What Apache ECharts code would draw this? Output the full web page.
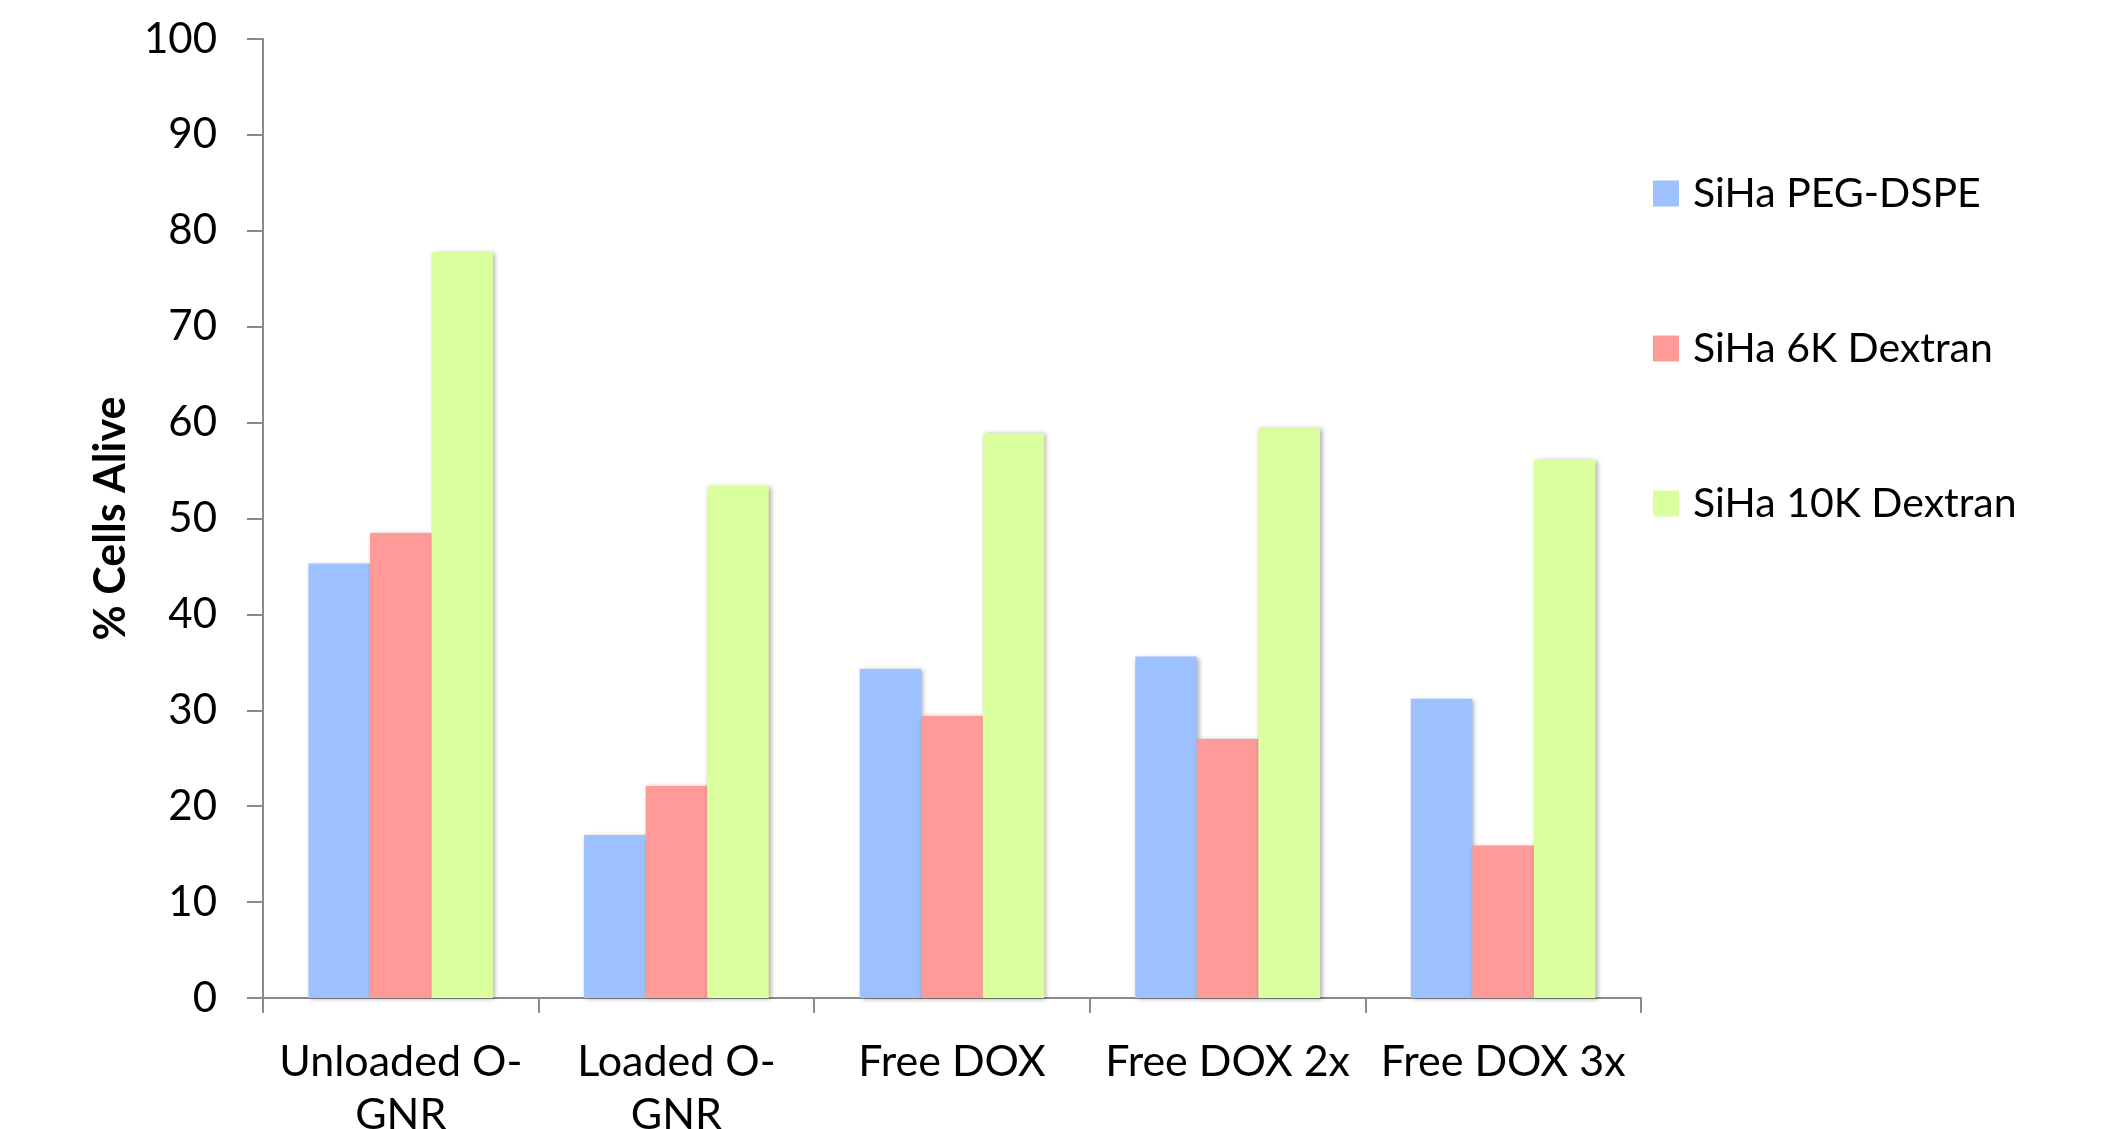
<!DOCTYPE html>
<html>
<head>
<meta charset="utf-8">
<script src="https://cdn.jsdelivr.net/npm/echarts@6/dist/echarts.min.js"></script>
<style>
  html, body { margin: 0; padding: 0; background: #ffffff; }
  #chart { width: 2118px; height: 1129px; }
</style>
</head>
<body>
<div id="chart"></div>
<script>
// Treatment groups along the x axis
const categories = ['Unloaded O-\nGNR', 'Loaded O-\nGNR', 'Free DOX', 'Free DOX 2x', 'Free DOX 3x'];

// Percent of cells alive per formulation
const pegDspe = [45.3, 17.0, 34.3, 35.6, 31.2];
const dextran6k = [48.5, 22.1, 29.4, 27.0, 15.9];
const dextran10k = [77.8, 53.4, 58.9, 59.4, 56.1];

const seriesNames = ['SiHa PEG-DSPE', 'SiHa 6K Dextran', 'SiHa 10K Dextran'];
const seriesColors = ['#9cc1fe', '#ff9a98', '#dbfe9e'];

const font = 'Lato, "Open Sans", sans-serif';
const axisGray = '#8a8a8a';

const barStyle = (color) => ({
  color: color,
  shadowColor: 'rgba(0,0,0,0.35)',
  shadowBlur: 5,
  shadowOffsetX: 2,
  shadowOffsetY: 1
});

const chart = echarts.init(document.getElementById('chart'), null, { renderer: 'canvas' });

chart.setOption({
  backgroundColor: '#ffffff',
  animation: false,
  grid: {
    left: 263, right: 477, top: 39, bottom: 131,
    containLabel: false,
    outerBoundsMode: 'none'
  },
  legend: {
    orient: 'vertical',
    left: 1648,
    top: 168,
    itemWidth: 26,
    itemHeight: 26,
    itemGap: 114,
    icon: 'rect',
    data: seriesNames,
    textStyle: { fontFamily: font, fontSize: 41, color: '#000', padding: [0, 0, 0, 9] }
  },
  xAxis: {
    type: 'category',
    data: categories,
    axisLine: { lineStyle: { color: axisGray, width: 2 } },
    axisTick: { show: true, length: 15, lineStyle: { color: axisGray, width: 2 } },
    axisLabel: {
      interval: 0,
      margin: 38,
      fontFamily: font,
      fontSize: 43,
      lineHeight: 53,
      color: '#000'
    }
  },
  yAxis: {
    type: 'value',
    min: 0,
    max: 100,
    interval: 10,
    name: '% Cells Alive',
    nameLocation: 'middle',
    nameGap: 128,
    nameRotate: 90,
    nameTextStyle: { fontFamily: font, fontSize: 43, fontWeight: 'bold', color: '#000' },
    splitLine: { show: false },
    axisLine: { show: true, lineStyle: { color: axisGray, width: 2 } },
    axisTick: { show: true, length: 16, lineStyle: { color: axisGray, width: 2 } },
    axisLabel: { margin: 46, fontFamily: font, fontSize: 42, color: '#000' }
  },
  series: [
    { name: seriesNames[0], type: 'bar', data: pegDspe, barGap: '0%', barCategoryGap: '33%', itemStyle: barStyle(seriesColors[0]) },
    { name: seriesNames[1], type: 'bar', data: dextran6k, barGap: '0%', barCategoryGap: '33%', itemStyle: barStyle(seriesColors[1]) },
    { name: seriesNames[2], type: 'bar', data: dextran10k, barGap: '0%', barCategoryGap: '33%', itemStyle: barStyle(seriesColors[2]) }
  ]
});
</script>
</body>
</html>
